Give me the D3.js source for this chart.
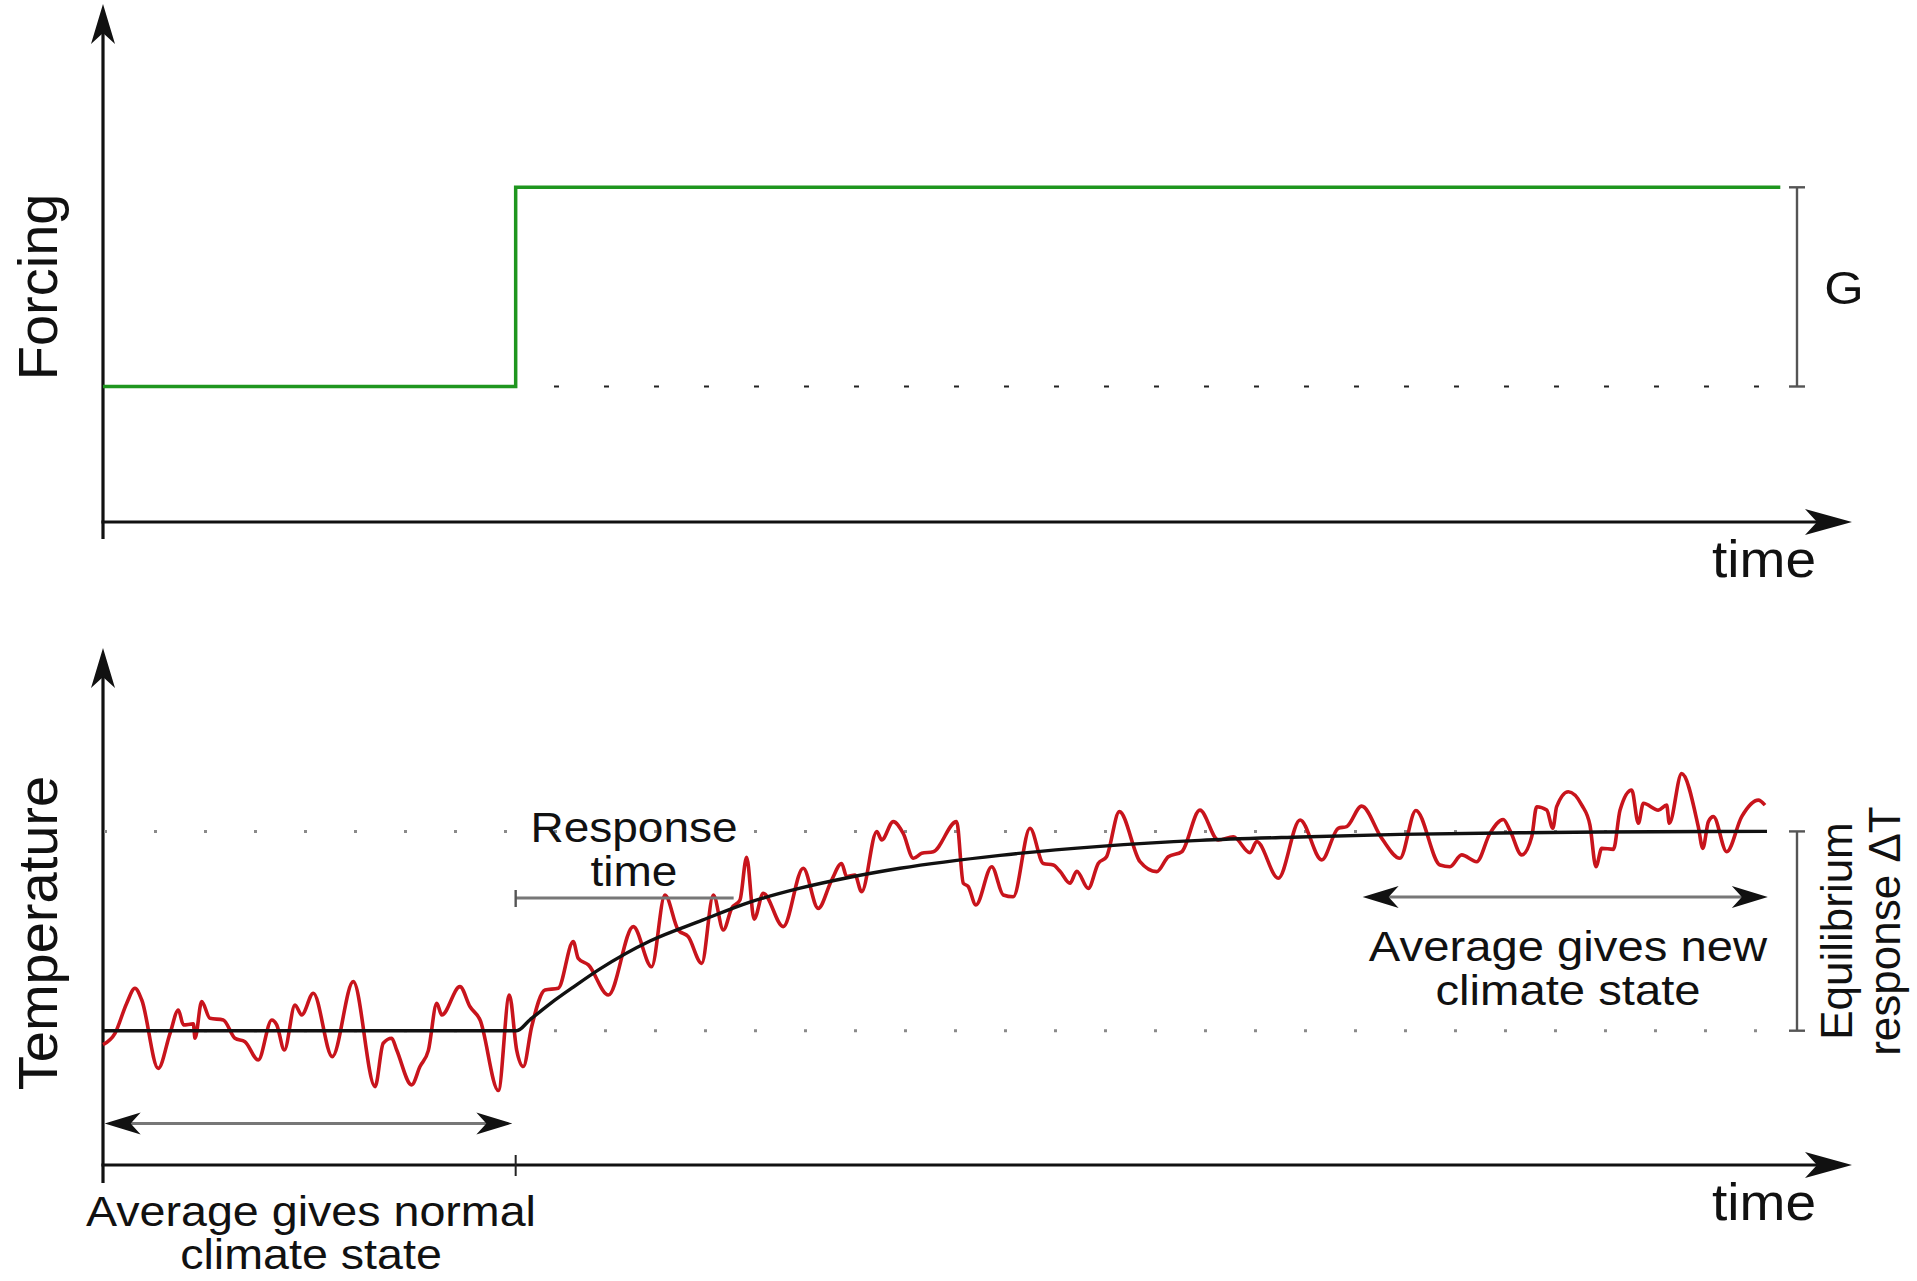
<!DOCTYPE html>
<html>
<head>
<meta charset="utf-8">
<script src="https://cdn.jsdelivr.net/npm/d3@7"></script>
<style>
  html, body { margin: 0; padding: 0; background: #fff; }
  svg { display: block; }
  text { font-family: "Liberation Sans", Arial, Helvetica, sans-serif; fill: #111; }
</style>
</head>
<body>
<svg id="chart" width="1917" height="1281"></svg>
<script>
// ---- data -------------------------------------------------------------
// Forcing: a single step of size G (normalised to 1) at the switch-on time.
const stepTime = 24.8;
const forcingTimes  = [0, stepTime, 100.8];
const forcingValues = [0, 1, 1];

// Smooth mean temperature response (fraction of equilibrium response ΔT).
const meanTimes  = [0, 24.86, 25.66, 26.86, 28.37, 29.87, 32.87, 35.88, 38.88, 41.89, 44.89, 47.9, 53.91, 59.92, 65.93, 71.94, 77.94, 83.95, 89.96, 100];
const meanValues = [0, 0, 0.055, 0.135, 0.225, 0.31, 0.45, 0.55, 0.645, 0.715, 0.77, 0.815, 0.88, 0.925, 0.955, 0.972, 0.985, 0.992, 0.997, 1.0];

// Year-to-year temperature with internal variability.
const noisyTimes = [0, 0.72, 1.42, 1.92, 2.33, 3.32, 4.03, 4.53, 4.83, 5.43, 5.53, 5.93, 6.43, 7.23, 7.93, 8.53, 9.33, 10.14, 10.44, 10.9, 11.54, 11.94, 12.64, 13.78, 15.04, 16.35, 16.84, 17.35, 17.65, 18.55, 19.05, 19.55, 20.06, 20.36, 21.45, 22.06, 22.66, 23.76, 24.42, 24.86, 25.26, 25.76, 26.56, 27.36, 28.26, 28.56, 29.17, 30.37, 31.87, 32.97, 33.77, 34.57, 35.17, 35.98, 36.68, 37.28, 37.78, 38.28, 38.68, 39.13, 39.68, 40.88, 42.08, 42.98, 43.79, 44.39, 44.69, 45.19, 45.59, 46.5, 46.8, 47.49, 48.09, 48.7, 49.2, 49.9, 51.3, 51.7, 52.0, 52.46, 53.41, 54.1, 54.7, 55.71, 56.51, 57.11, 57.51, 58.11, 58.52, 59.21, 59.81, 60.31, 61.08, 62.32, 63.32, 64.02, 64.83, 65.92, 67.02, 67.93, 68.93, 69.33, 70.63, 71.94, 73.24, 74.24, 74.74, 75.64, 76.85, 77.94, 78.9, 80.35, 80.95, 81.65, 82.55, 83.35, 84.15, 84.56, 85.26, 85.86, 86.16, 86.76, 87.13, 87.36, 88.06, 88.87, 89.36, 89.72, 90.07, 90.77, 91.17, 91.87, 92.27, 92.57, 93.47, 93.97, 94.13, 94.87, 95.87, 96.14, 96.48, 96.78, 97.58, 98.48, 99.48, 99.88];
const noisyValues = [-0.07, -0.013, 0.137, 0.213, 0.154, -0.189, -0.013, 0.104, 0.029, 0.034, -0.038, 0.146, 0.062, 0.054, -0.038, -0.055, -0.147, 0.054, 0.029, -0.097, 0.129, 0.079, 0.188, -0.13, 0.246, -0.281, -0.063, -0.038, -0.097, -0.272, -0.18, -0.1, 0.137, 0.079, 0.221, 0.12, 0.054, -0.3, 0.179, -0.097, -0.18, 0.02, 0.204, 0.213, 0.447, 0.363, 0.33, 0.179, 0.522, 0.321, 0.681, 0.505, 0.472, 0.338, 0.681, 0.505, 0.614, 0.656, 0.87, 0.56, 0.689, 0.522, 0.815, 0.614, 0.756, 0.839, 0.773, 0.781, 0.697, 0.999, 0.957, 1.049, 0.99, 0.865, 0.89, 0.898, 1.049, 0.74, 0.723, 0.631, 0.823, 0.681, 0.672, 1.016, 0.839, 0.831, 0.8, 0.74, 0.8, 0.714, 0.839, 0.873, 1.099, 0.848, 0.798, 0.873, 0.898, 1.107, 0.957, 0.973, 0.893, 0.949, 0.765, 1.057, 0.857, 1.016, 1.024, 1.127, 0.965, 0.865, 1.105, 0.831, 0.823, 0.882, 0.848, 0.99, 1.06, 1.004, 0.882, 0.973, 1.124, 1.107, 1.016, 1.124, 1.199, 1.132, 1.032, 0.823, 0.915, 0.91, 1.107, 1.207, 1.041, 1.141, 1.107, 1.132, 1.041, 1.29, 1.024, 0.915, 1.049, 1.074, 0.898, 1.074, 1.157, 1.132];

// Spans marked by annotations (in time units).
const responseSpan = [stepTime, 37.9];
const normalSpan   = [0.1, 24.6];
const newSpan      = [75.7, 100.05];

// ---- layout -----------------------------------------------------------
const svg = d3.select("#chart");
const x  = d3.scaleLinear().domain([0, 100]).range([103, 1767]);
const yF = d3.scaleLinear().domain([0, 1]).range([386.5, 187.3]);
const yT = d3.scaleLinear().domain([0, 1]).range([1030.7, 831.4]);

const axisX0 = 103, axisTipX = 1852;
const panels = [
  { axisY: 522,  tipY: 4,   tailY: 539 },
  { axisY: 1165, tipY: 648, tailY: 1183 }
];

// concave "stealth" arrowhead pointing along +x, tip at origin
function head(L, W, N) {
  return `M0,0 L${-L},${-W} L${-L + N},0 L${-L},${W} Z`;
}

// axes
panels.forEach(p => {
  svg.append("line").attr("x1", axisX0).attr("x2", axisX0)
    .attr("y1", p.tailY).attr("y2", p.tipY + 20)
    .attr("stroke", "#111").attr("stroke-width", 3.2);
  svg.append("path").attr("d", head(40, 12, 11))
    .attr("transform", `translate(${axisX0},${p.tipY}) rotate(-90)`)
    .attr("fill", "#111");
  svg.append("line").attr("x1", axisX0 - 1.6).attr("x2", axisTipX - 20)
    .attr("y1", p.axisY).attr("y2", p.axisY)
    .attr("stroke", "#111").attr("stroke-width", 3.2);
  svg.append("path").attr("d", head(47, 13, 12))
    .attr("transform", `translate(${axisTipX},${p.axisY})`)
    .attr("fill", "#111");
});

// reference levels
svg.append("line")
  .attr("x1", x(0)).attr("x2", 1760)
  .attr("y1", yF(0)).attr("y2", yF(0))
  .attr("stroke", "#222").attr("stroke-width", 2)
  .attr("stroke-dasharray", "5,45").attr("stroke-dashoffset", -1);
[0, 1].forEach(v => {
  svg.append("line")
    .attr("x1", x(0)).attr("x2", 1760)
    .attr("y1", yT(v)).attr("y2", yT(v))
    .attr("stroke", "#8a8a8a").attr("stroke-width", 3)
    .attr("stroke-dasharray", "3,47").attr("stroke-dashoffset", -1);
});

// forcing step
const forcing = forcingTimes.map((t, i) => [t, forcingValues[i]]);
svg.append("path")
  .attr("d", d3.line().x(d => x(d[0])).y(d => yF(d[1])).curve(d3.curveStepAfter)(forcing))
  .attr("fill", "none").attr("stroke", "#1f961f").attr("stroke-width", 3.5);

// noisy temperature
const noisy = noisyTimes.map((t, i) => [t, noisyValues[i]]);
svg.append("path")
  .attr("d", d3.line().x(d => x(d[0])).y(d => yT(d[1])).curve(d3.curveMonotoneX)(noisy))
  .attr("fill", "none").attr("stroke", "#c8141c").attr("stroke-width", 3.6)
  .attr("stroke-linejoin", "round");

// mean response
const mean = meanTimes.map((t, i) => [t, meanValues[i]]);
svg.append("path")
  .attr("d", d3.line().x(d => x(d[0])).y(d => yT(d[1])).curve(d3.curveMonotoneX)(mean))
  .attr("fill", "none").attr("stroke", "#111").attr("stroke-width", 3.4);

// tick at the switch-on time on the lower time axis
svg.append("line").attr("x1", x(stepTime)).attr("x2", x(stepTime))
  .attr("y1", 1155).attr("y2", 1176).attr("stroke", "#222").attr("stroke-width", 2);

// bracket helper (vertical span with end caps)
function bracket(px, yTop, yBot, cap) {
  const g = svg.append("g").attr("stroke", "#555").attr("stroke-width", 2.4);
  g.append("line").attr("x1", px).attr("x2", px).attr("y1", yTop).attr("y2", yBot);
  g.append("line").attr("x1", px - cap).attr("x2", px + cap).attr("y1", yTop).attr("y2", yTop);
  g.append("line").attr("x1", px - cap).attr("x2", px + cap).attr("y1", yBot).attr("y2", yBot);
}
bracket(1797, yF(1), yF(0), 8);
bracket(1797, yT(1), yT(0), 8);

// response time bar
svg.append("line").attr("x1", x(responseSpan[0])).attr("x2", x(responseSpan[1]))
  .attr("y1", 898).attr("y2", 898).attr("stroke", "#777").attr("stroke-width", 3);
svg.append("line").attr("x1", x(responseSpan[0])).attr("x2", x(responseSpan[0]))
  .attr("y1", 890).attr("y2", 907).attr("stroke", "#555").attr("stroke-width", 2.4);

// double-headed averaging arrows
function doubleArrow(span, py) {
  const a = x(span[0]), b = x(span[1]);
  svg.append("line").attr("x1", a + 10).attr("x2", b - 10).attr("y1", py).attr("y2", py)
    .attr("stroke", "#777").attr("stroke-width", 3);
  svg.append("path").attr("d", head(36, 11, 10))
    .attr("transform", `translate(${b},${py})`).attr("fill", "#111");
  svg.append("path").attr("d", head(36, 11, 10))
    .attr("transform", `translate(${a},${py}) rotate(180)`).attr("fill", "#111");
}
doubleArrow(normalSpan, 1123.5);
doubleArrow(newSpan, 897);

// ---- text -------------------------------------------------------------
// single- or multi-line label; extra lines are stacked with tspans.
// sx widens the lettering a little without making it taller.
function label(lines, px, py, size, rot, gap, sx) {
  const t = svg.append("text")
    .attr("transform", `translate(${px},${py})` + (rot ? ` rotate(${rot})` : "") +
                       (sx ? ` scale(${sx},1)` : ""))
    .attr("text-anchor", "middle")
    .attr("font-size", size);
  [].concat(lines).forEach((s, i) => {
    t.append("tspan").attr("x", 0).attr("y", i * (gap || 0)).text(s);
  });
  return t;
}
label("Forcing", 57, yF(0.5), 56, -90);
label("Temperature", 57, yT(0.5) + 2, 56, -90);
label("time", 1764, 577, 52, 0, 0, 1.06);
label("time", 1764, 1220, 52, 0, 0, 1.06);
label("G", 1844, 304, 47, 0, 0, 1.08);
label(["Response", "time"], 634, 842, 43, 0, 44, 1.07);
label(["Average gives new", "climate state"], 1568, 961, 42, 0, 44, 1.125);
label(["Average gives normal", "climate state"], 311, 1226, 42, 0, 43, 1.11);
label(["Equilibrium", "response \u0394T"], 1852, yT(0.5), 44, -90, 48);
</script>
</body>
</html>
